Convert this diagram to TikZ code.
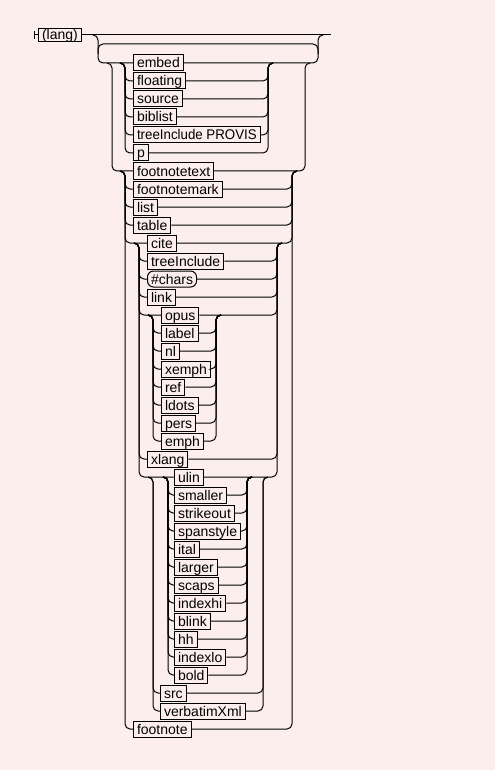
\documentclass[tikz,border=0pt]{standalone}
\usepackage{fontspec}
\setmainfont{Liberation Sans}
\definecolor{paper}{RGB}{253,238,238}

\begin{document}
\begin{tikzpicture}[x=1pt, y=-1pt, line width=1pt,
    term/.style={draw, anchor=west, font=\fontsize{14}{16}\selectfont,
      inner xsep=3.5pt, inner ysep=0pt, minimum height=16pt,
      text height=11.5pt, text depth=1.5pt},
    rail/.style={rounded corners=5pt}]
    % Background
    \fill [paper] (0,0) rectangle (495,770);
    \useasboundingbox (0,0) rectangle (495,770);

    % Rail junctions
    \coordinate (loopL) at (98,35);   \coordinate (loopR) at (318,35);
    \coordinate (backL) at (98,44);   \coordinate (backR) at (318,44);
    \coordinate (Oin) at (112,63);    \coordinate (Oout) at (305,63);
    \coordinate (Ain) at (125,63);    \coordinate (Aout) at (268,63);
    \coordinate (Bin) at (125,171);   \coordinate (Bout) at (292,171);
    \coordinate (Cin) at (139,243);   \coordinate (Cout) at (277,243);
    \coordinate (Din) at (153,315);   \coordinate (Dout) at (216,315);
    \coordinate (Ein) at (153,477);   \coordinate (Eout) at (263,477);
    \coordinate (Fin) at (168,477);   \coordinate (Fout) at (247,477);
    \coordinate (exit) at (331,35);

    % Start
    \node [term, minimum height=13pt] (lang) at (38,35) {(lang)};
    \draw (lang.west) -- ++(-4,0) ++(0,-4) -- ++(0,8);
    \draw (lang.east) -- (exit);

    % Loop
    \node [term] (embed) at (133,63) {embed};
    \draw [rail] (embed.west) -| (loopL) -- ++(-5,0);
    \draw [rail] (embed.east) -| (loopR) -- ++(5,0);
    \draw [rail] ([yshift=-10pt]backR) -- (backR) -- (backL) -- ([yshift=-10pt]backL);

    % embed ... p
    \foreach \n/\t [count=\i] in {floating/floating, source/source, biblist/biblist,
        provis/\scalebox{0.95}[1]{treeInclude PROVIS}, p/p} {
      \node [term] (\n) at (133,63+18*\i) {\t};
      \draw [rail] (\n.west) -| (Ain) -- ++(-5,0);
      \draw [rail] (\n.east) -| (Aout) -- ++(5,0);
    }

    % footnotetext ... footnote
    \node [term] (footnotetext) at (133,171) {footnotetext};
    \draw [rail] (footnotetext.west) -| (Oin) -- ++(-5,0);
    \draw [rail] (footnotetext.east) -| (Oout) -- ++(5,0);
    \foreach \n/\y in {footnotemark/189, list/207, table/225, footnote/729} {
      \node [term] (\n) at (133,\y) {\n};
      \draw [rail] (\n.west) -| (Bin) -- ++(-5,0);
      \draw [rail] (\n.east) -| (Bout) -- ++(5,0);
    }

    % cite ... xlang
    \node [term] (cite) at (147,243) {cite};
    \draw [rail] (cite.west) -| (Bin) -- ++(-5,0);
    \draw [rail] (cite.east) -| (Bout) -- ++(5,0);
    \node [term, rounded corners=6pt] (chars) at (147,279) {\#chars\hspace{11pt}};
    \draw [rail] (chars.west) -| (Cin) -- ++(-5,0);
    \draw [rail] (chars.east) -| (Cout) -- ++(5,0);
    \foreach \n/\t/\y in {treeincl/treeInclude/261, link/link/297, xlang/xlang/459} {
      \node [term] (\n) at (147,\y) {\t};
      \draw [rail] (\n.west) -| (Cin) -- ++(-5,0);
      \draw [rail] (\n.east) -| (Cout) -- ++(5,0);
    }

    % opus ... emph
    \node [term] (opus) at (161,315) {opus};
    \draw [rail] (opus.west) -| (Cin) -- ++(-5,0);
    \draw [rail] (opus.east) -| (Cout) -- ++(5,0);
    \foreach \n [count=\i] in {label, nl, xemph, ref, ldots, pers, emph} {
      \node [term] (\n) at (161,315+18*\i) {\n};
      \draw [rail] (\n.west) -| (Din) -- ++(-5,0);
      \draw [rail] (\n.east) -| (Dout) -- ++(5,0);
    }

    % ulin ... bold
    \node [term] (ulin) at (174,477) {ulin};
    \draw [rail] (ulin.west) -| (Cin) -- ++(-5,0);
    \draw [rail] (ulin.east) -| (Cout) -- ++(5,0);
    \foreach \n [count=\i] in {smaller, strikeout, spanstyle, ital, larger, scaps,
        indexhi, blink, hh, indexlo, bold} {
      \node [term] (\n) at (174,477+18*\i) {\n};
      \draw [rail] (\n.west) -| (Fin) -- ++(-5,0);
      \draw [rail] (\n.east) -| (Fout) -- ++(5,0);
    }

    % src, verbatimXml
    \foreach \n/\y in {src/693, verbatimXml/711} {
      \node [term] (\n) at (160,\y) {\n};
      \draw [rail] (\n.west) -| (Ein) -- ++(-5,0);
      \draw [rail] (\n.east) -| (Eout) -- ++(5,0);
    }
\end{tikzpicture}
\end{document}
